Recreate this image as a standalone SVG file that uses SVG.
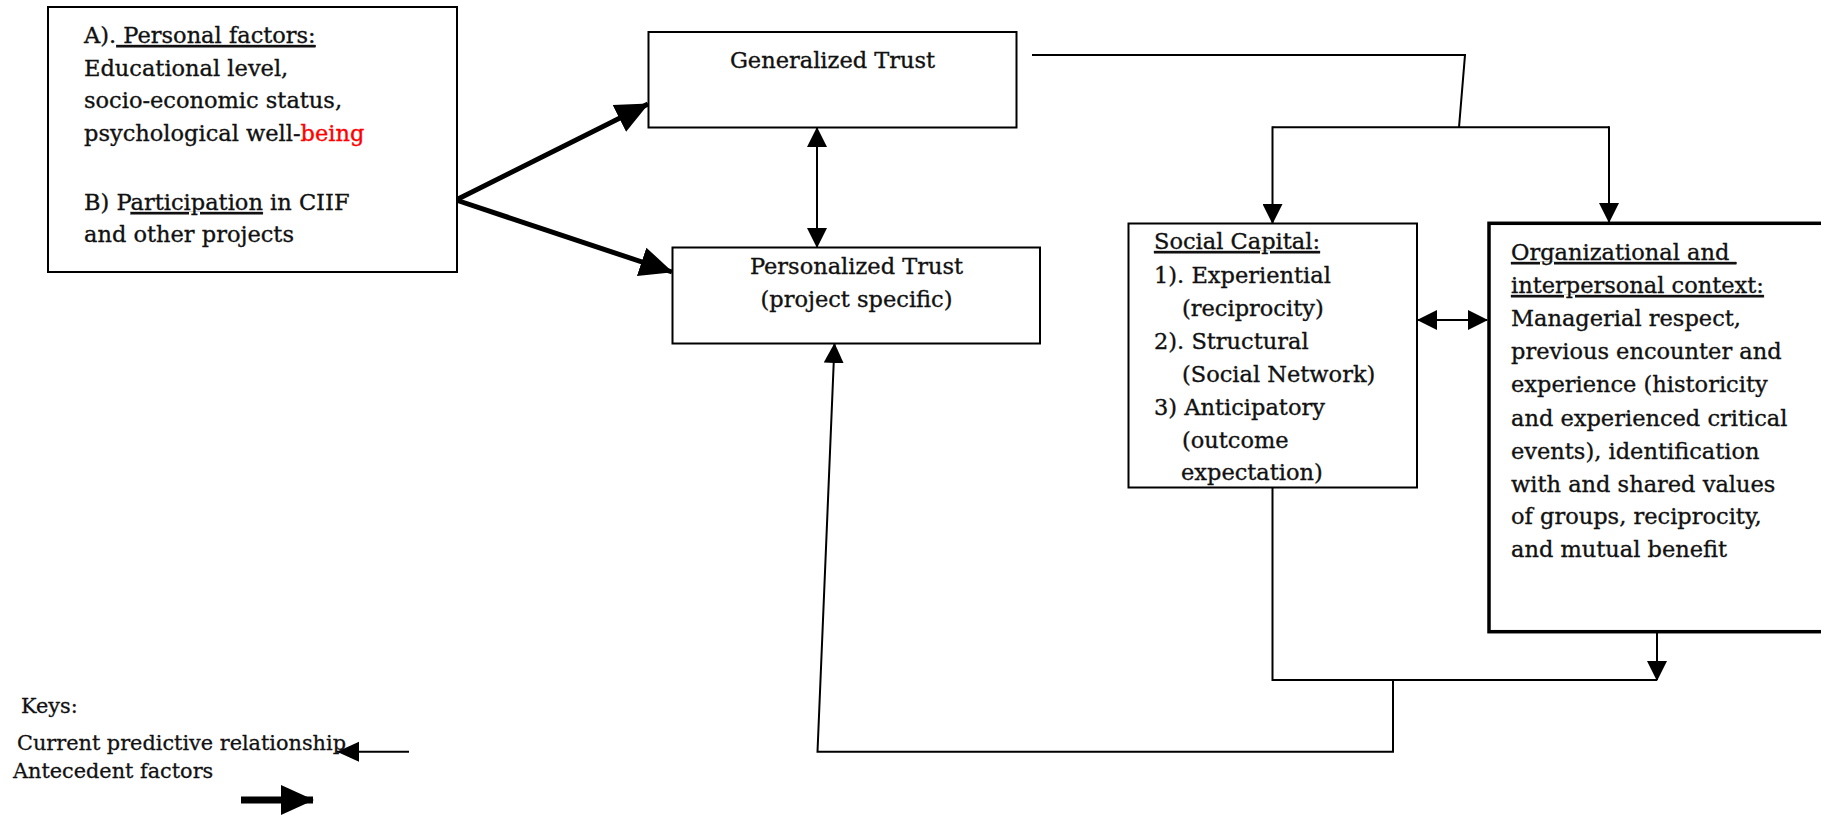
<svg xmlns="http://www.w3.org/2000/svg" width="1821" height="815" viewBox="0 0 1821 815">
<style>
  .box { fill: #ffffff; stroke: #000000; stroke-width: 2; }
  .boxthick { fill: #ffffff; stroke: #000000; stroke-width: 3.5; }
  .t { font-family: "DejaVu Serif", "Liberation Serif", serif; font-size: 22.5px; fill: #111111; stroke: #111111; stroke-width: 0.35px; }
  .k { font-family: "DejaVu Serif", "Liberation Serif", serif; font-size: 20.8px; fill: #111111; stroke: #111111; stroke-width: 0.3px; }
  .red { fill: #ff0000; stroke: #ff0000; }
  .c { fill: none; stroke: #000000; stroke-width: 2; }
  .thick { fill: none; stroke: #000000; stroke-width: 5; }
  .u { text-decoration: underline; }
</style>
<defs>
  <marker id="ah" markerUnits="userSpaceOnUse" markerWidth="20" markerHeight="20" refX="19" refY="10" orient="auto-start-reverse">
    <path d="M0,0 L20,10 L0,20 z" fill="#000000"/>
  </marker>
  <marker id="ahb" markerUnits="userSpaceOnUse" markerWidth="34" markerHeight="32" refX="32" refY="16" orient="auto">
    <path d="M0,1 L33,16 L0,31 z" fill="#000000"/>
  </marker>
  <marker id="ahk" markerUnits="userSpaceOnUse" markerWidth="24" markerHeight="22" refX="22" refY="11" orient="auto">
    <path d="M0,1 L22,11 L0,21 z" fill="#000000"/>
  </marker>
</defs>

<g id="connectors">
  <!-- Antecedent thick arrows -->
  <line class="thick" x1="456" y1="200" x2="648" y2="104" marker-end="url(#ahb)"/>
  <line class="thick" x1="456" y1="200" x2="672" y2="272" marker-end="url(#ahb)"/>
  <!-- Generalized <-> Personalized -->
  <line class="c" x1="817" y1="128" x2="817" y2="247" marker-start="url(#ah)" marker-end="url(#ah)"/>
  <!-- Generalized trust to social capital / org context -->
  <polyline class="c" points="1032,55 1465,55 1459,127.3"/>
  <line class="c" x1="1272.5" y1="127.3" x2="1609" y2="127.3"/>
  <line class="c" x1="1272.5" y1="126.3" x2="1272.5" y2="223" marker-end="url(#ah)"/>
  <line class="c" x1="1609" y1="126.3" x2="1609" y2="222" marker-end="url(#ah)"/>
  <!-- Social capital <-> org context -->
  <line class="c" x1="1418" y1="320" x2="1487" y2="320" marker-start="url(#ah)" marker-end="url(#ah)"/>
  <!-- Feedback loop -->
  <polyline class="c" points="1272.5,488 1272.5,680 1657,680"/>
  <line class="c" x1="1657" y1="633" x2="1657" y2="680" marker-end="url(#ah)"/>
  <polyline class="c" points="1393,680 1393,751.7 817.5,751.7 834.5,344" marker-end="url(#ah)"/>
</g>

<g id="node-personal">
  <rect class="box" x="48" y="7" width="409" height="265"/>
  <text class="t" x="84" y="43">A).<tspan class="u">&#160;Personal factors:</tspan></text>
  <text class="t" x="84" y="75.5">Educational level,</text>
  <text class="t" x="84" y="108">socio-economic status,</text>
  <text class="t" x="84" y="140.5">psychological well-<tspan class="red">being</tspan></text>
  <text class="t" x="84" y="210">B) P<tspan class="u">articipation</tspan> in CIIF</text>
  <text class="t" x="84" y="242">and other projects</text>
</g>

<g id="node-generalized">
  <rect class="box" x="648.5" y="32" width="368" height="95.5"/>
  <text class="t" x="832.5" y="68" text-anchor="middle">Generalized Trust</text>
</g>

<g id="node-personalized">
  <rect class="box" x="672.5" y="247.5" width="367.5" height="96"/>
  <text class="t" x="856.5" y="274" text-anchor="middle">Personalized Trust</text>
  <text class="t" x="856.5" y="306.5" text-anchor="middle">(project specific)</text>
</g>

<g id="node-social-capital">
  <rect class="box" x="1128.5" y="223.5" width="288.5" height="264"/>
  <text class="t" x="1154" y="249"><tspan class="u">Social Capital:</tspan></text>
  <text class="t" x="1154" y="283">1). Experiential</text>
  <text class="t" x="1182" y="316">(reciprocity)</text>
  <text class="t" x="1154" y="349">2). Structural</text>
  <text class="t" x="1182" y="382">(Social Network)</text>
  <text class="t" x="1154" y="415">3) Anticipatory</text>
  <text class="t" x="1182" y="447.5">(outcome</text>
  <text class="t" x="1181" y="480">expectation)</text>
</g>

<g id="node-org-context">
  <rect class="boxthick" x="1489" y="223.3" width="345" height="408.4"/>
  <text class="t" x="1511" y="260"><tspan class="u">Organizational and&#160;</tspan></text>
  <text class="t" x="1511" y="293"><tspan class="u">interpersonal context:</tspan></text>
  <text class="t" x="1511" y="326">Managerial respect,</text>
  <text class="t" x="1511" y="359">previous encounter and</text>
  <text class="t" x="1511" y="392">experience (historicity</text>
  <text class="t" x="1511" y="425.5">and experienced critical</text>
  <text class="t" x="1511" y="458.5">events), identification</text>
  <text class="t" x="1511" y="491.5">with and shared values</text>
  <text class="t" x="1511" y="524">of groups, reciprocity,</text>
  <text class="t" x="1511" y="557">and mutual benefit</text>
</g>

<g id="keys">
  <text class="k" x="21" y="713">Keys:</text>
  <text class="k" x="17" y="750">Current predictive relationship</text>
  <text class="k" x="13" y="778">Antecedent factors</text>
  <line class="c" x1="409" y1="751.7" x2="337" y2="751.7" marker-end="url(#ahk)"/>
  <line x1="241" y1="800" x2="313" y2="800" stroke="#000000" stroke-width="7" marker-end="url(#ahb)"/>
</g>
</svg>
